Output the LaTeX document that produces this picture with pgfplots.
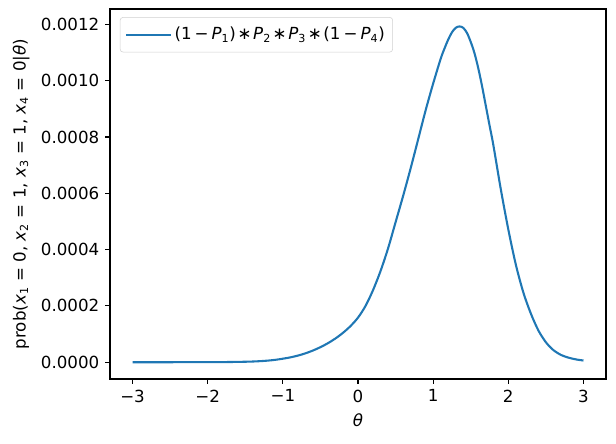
\documentclass[border=0pt]{standalone}
\usepackage{fontspec}
\setmainfont{DejaVu Sans}
\usepackage{pgfplots}
\pgfplotsset{compat=1.18}
\definecolor{c0}{HTML}{1F77B4}
\begin{document}
\fontsize{12}{14}\selectfont
\begin{tikzpicture}
\useasboundingbox (-79.2pt,-46.1pt) rectangle (364.3pt,272.9pt);
\begin{axis}[
  at={(0,0)}, anchor=south west,
  scale only axis, width=357.1pt, height=266.4pt,
  xmin=-3.3, xmax=3.3, ymin=-0.0000598, ymax=0.0012548,
  xtick={-3,-2,-1,0,1,2,3},
  xticklabels={−3,−2,−1,0,1,2,3},
  ytick={0,0.0002,0.0004,0.0006,0.0008,0.001,0.0012},
  yticklabels={0.0000,0.0002,0.0004,0.0006,0.0008,0.0010,0.0012},
  scaled y ticks=false,
  tick align=outside, tick pos=left,
  major tick length=3.5pt,
  every tick/.style={black, line width=0.8pt},
  axis line style={line width=0.8pt},
  ticklabel style={font=\fontsize{12}{14}\selectfont},
  xlabel={\textit{θ}},
  ylabel={prob(\textit{x}\textsubscript{1} = 0, \textit{x}\textsubscript{2} = 1, \textit{x}\textsubscript{3} = 1, \textit{x}\textsubscript{4} = 0|\textit{θ})},
  label style={font=\fontsize{12}{14}\selectfont},
  legend style={at={(0.02,0.978)}, anchor=north west, draw=black!18, rounded corners=2pt,
    fill=white, font=\fontsize{12}{14}\selectfont, inner xsep=3.6pt, inner ysep=5pt},
  legend cell align=left,
  legend image code/.code={\draw[#1] (0pt,0pt) -- (25pt,0pt); \path (0pt,0pt) -- (32pt,0pt);},
]
\addplot[c0, line width=1.5pt, smooth] coordinates {
(-3.0,0.00004e-4) (-2.5,0.0003e-4) (-2.0,0.002e-4) (-1.75,0.006e-4) (-1.5,0.017e-4)
(-1.4,0.025e-4) (-1.3,0.038e-4) (-1.2,0.057e-4) (-1.1,0.085e-4)
(-1.0,0.125e-4) (-0.9,0.172e-4) (-0.8,0.235e-4) (-0.7,0.315e-4) (-0.6,0.415e-4)
(-0.5,0.535e-4) (-0.4,0.676e-4) (-0.3,0.844e-4) (-0.2,1.044e-4) (-0.1,1.284e-4)
(0.0,1.584e-4) (0.1,2.000e-4) (0.2,2.560e-4) (0.3,3.240e-4) (0.4,4.044e-4)
(0.5,4.974e-4) (0.6,5.904e-4) (0.7,6.884e-4) (0.8,7.914e-4) (0.9,8.95e-4)
(1.0,9.90e-4) (1.1,10.78e-4) (1.15,11.14e-4) (1.2,11.46e-4) (1.25,11.72e-4) (1.3,11.88e-4)
(1.35,11.93e-4) (1.4,11.88e-4) (1.45,11.70e-4) (1.5,11.38e-4) (1.55,10.98e-4) (1.6,10.45e-4)
(1.65,9.82e-4) (1.7,9.12e-4) (1.75,8.42e-4) (1.8,7.73e-4) (1.9,6.15e-4) (2.0,4.72e-4) (2.1,3.47e-4)
(2.2,2.48e-4) (2.3,1.73e-4) (2.4,1.13e-4) (2.5,0.71e-4) (2.6,0.43e-4)
(2.7,0.26e-4) (2.8,0.163e-4) (2.9,0.100e-4) (3.0,0.060e-4)
};
\addlegendentry{(1\hspace{0.18em}−\hspace{0.18em}\textit{P}\textsubscript{1})\hspace{0.1em}∗\hspace{0.1em}\textit{P}\textsubscript{2}\hspace{0.1em}∗\hspace{0.1em}\textit{P}\textsubscript{3}\hspace{0.1em}∗\hspace{0.1em}(1\hspace{0.18em}−\hspace{0.18em}\textit{P}\textsubscript{4})}
\end{axis}
\end{tikzpicture}
\end{document}
